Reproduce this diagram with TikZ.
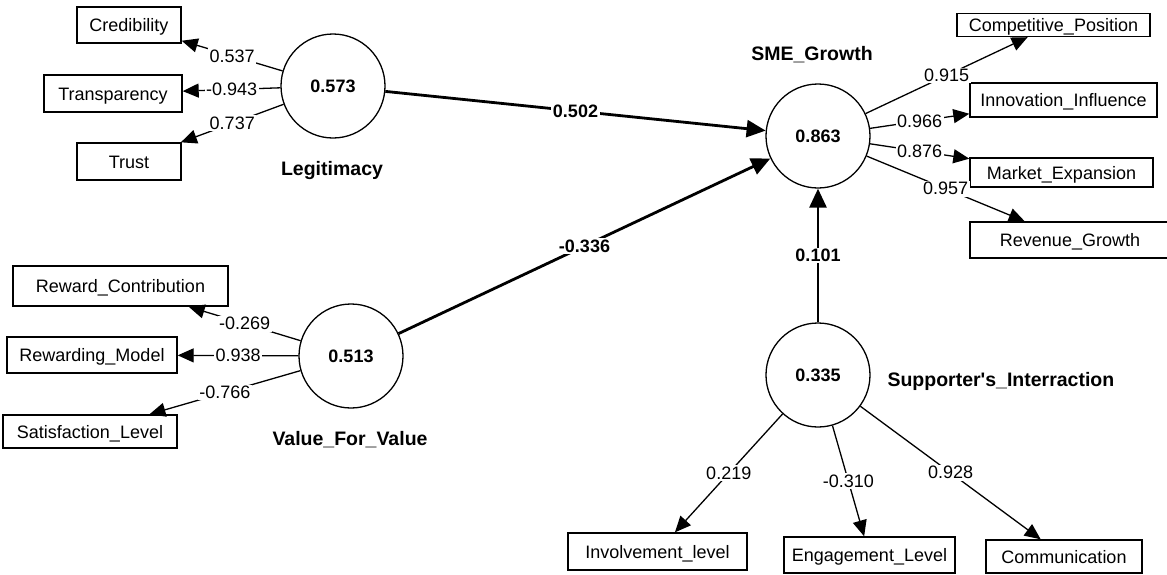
\documentclass[tikz,border=0pt]{standalone}
\usepackage{fontspec}
\setmainfont{Liberation Sans}
\usetikzlibrary{arrows.meta}
\begin{document}
\begin{tikzpicture}[x=1pt,y=-1pt,
  every node/.style={font=\fontsize{18pt}{20pt}\selectfont},
  latent/.style={circle,draw,line width=1.3pt,minimum size=104pt,inner sep=0pt,font=\fontsize{18pt}{20pt}\selectfont\bfseries},
  ind/.style={rectangle,draw,line width=1.4pt,inner sep=0pt,text height=13pt,text depth=0pt},
  cname/.style={font=\fontsize{19.5pt}{22pt}\selectfont\bfseries},
  load/.style={line width=1.3pt,-{Triangle[length=16pt,width=14pt]}},
  path/.style={line width=2.8pt,-{Triangle[length=19pt,width=17pt]}},
  lbl/.style={midway,fill=white,inner sep=1.5pt},
  blbl/.style={midway,fill=white,inner sep=1.5pt,font=\fontsize{18pt}{20pt}\selectfont\bfseries}
]
\useasboundingbox[fill=white] (0,0) rectangle (1167,574);

% latent variables
\node[latent] (leg) at (333,86) {0.573};
\node[latent] (vfv) at (351,356) {0.513};
\node[latent] (sme) at (818,136) {0.863};
\node[latent] (sup) at (818,375) {0.335};

% construct names
\node[cname] (legn) at (332,170) {Legitimacy};
\node[cname] (vfvn) at (350,440) {Value\_For\_Value};
\node[cname] (smen) at (812,55) {SME\_Growth};
\node[cname,anchor=west] (supn) at (884,381) {Supporter\textquotesingle s\_Interraction};

% indicators
\node[ind,minimum width=104pt,minimum height=36pt] (cred) at (129,25) {Credibility};
\node[ind,minimum width=138pt,minimum height=37pt] (trans) at (113,93.5) {Transparency};
\node[ind,minimum width=104pt,minimum height=37pt] (trust) at (129,161.5) {Trust};
\node[ind,minimum width=215pt,minimum height=40pt] (rew) at (120.5,286) {Reward\_Contribution};
\node[ind,minimum width=170pt,minimum height=36pt] (rmod) at (92,355) {Rewarding\_Model};
\node[ind,minimum width=174pt,minimum height=33pt] (sat) at (90,431.5) {Satisfaction\_Level};
\node[ind,minimum width=193pt,minimum height=23pt] (comp) at (1053.5,25) {Competitive\_Position};
\node[ind,minimum width=187pt,minimum height=34pt] (innov) at (1063.5,100) {Innovation\_Influence};
\node[ind,minimum width=183pt,minimum height=29pt] (mkt) at (1061.5,172.5) {Market\_Expansion};
\node[ind,minimum width=200pt,minimum height=36pt] (rev) at (1070,240) {Revenue\_Growth};
\node[ind,minimum width=179pt,minimum height=37pt] (inv) at (657.5,551.5) {Involvement\_level};
\node[ind,minimum width=171pt,minimum height=36pt] (eng) at (869.5,555) {Engagement\_Level};
\node[ind,minimum width=156pt,minimum height=33pt] (comm) at (1064,556.5) {Communication};

% loadings
\draw[load] (leg) -- (cred) node[lbl] {0.537};
\draw[load] (leg) -- (trans) node[lbl] {-0.943};
\draw[load] (leg) -- (trust) node[lbl] {0.737};
\draw[load] (vfv) -- (rew) node[lbl] {-0.269};
\draw[load] (vfv) -- (rmod) node[lbl] {0.938};
\draw[load] (vfv) -- (sat) node[lbl] {-0.766};
\draw[load] (sme) -- (comp) node[lbl] {0.915};
\draw[load] (sme) -- (innov) node[lbl] {0.966};
\draw[load] (sme) -- (mkt) node[lbl] {0.876};
\draw[load] (sme) -- (rev) node[lbl] {0.957};
\draw[load] (sup) -- (inv) node[lbl] {0.219};
\draw[load] (sup) -- (eng) node[lbl] {-0.310};
\draw[load] (sup) -- (comm) node[lbl] {0.928};

% structural paths
\draw[path] (leg) -- (sme) node[blbl] {0.502};
\draw[path] (vfv) -- (sme) node[blbl] {-0.336};
\draw[path] (sup) -- (sme) node[blbl] {0.101};
\end{tikzpicture}
\end{document}
